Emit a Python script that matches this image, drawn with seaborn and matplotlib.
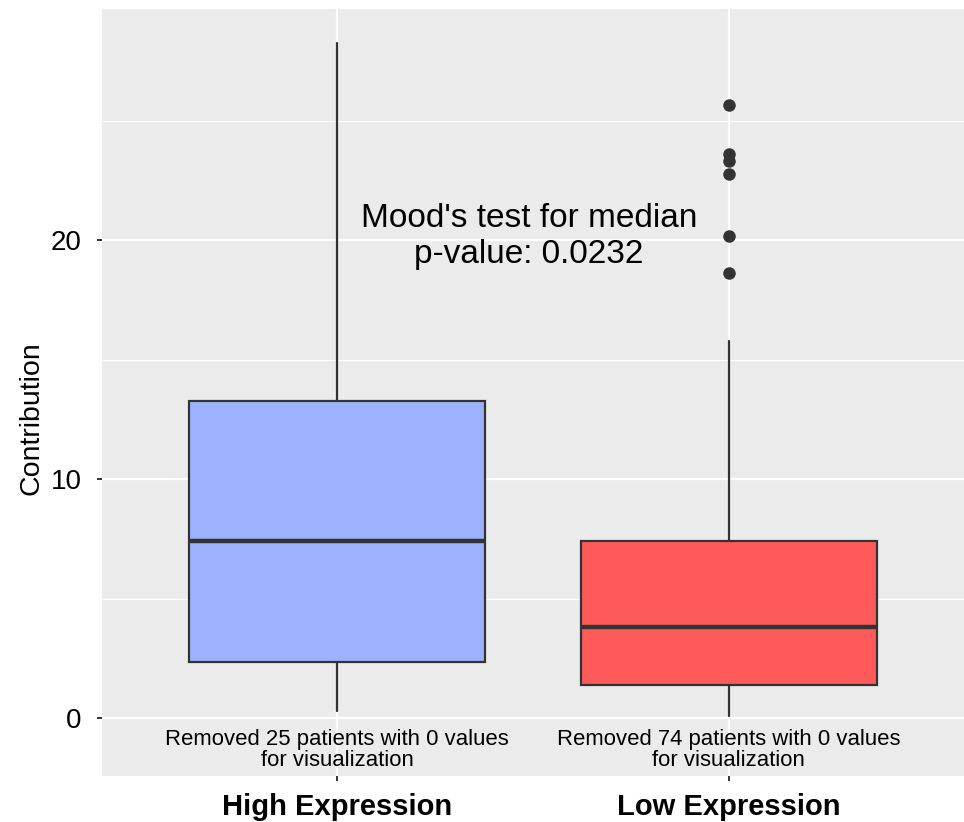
import matplotlib
matplotlib.use("Agg")
import matplotlib.pyplot as plt
import seaborn as sns

# Box summaries per expression group
groups = ["High Expression", "Low Expression"]
whisker_low = [0.29, 0.08]
q1 = [2.34, 1.39]
median = [7.43, 3.83]
q3 = [13.29, 7.43]
whisker_high = [28.27, 15.77]
outliers = [[], [25.66, 23.60, 23.30, 22.78, 20.17, 18.63]]
removed_counts = [25, 74]
box_colors = ["#9DB2FF", "#FF5A5A"]

y_ticks = [0, 10, 20]
annotation = "Mood's test for median\np-value: 0.0232"

sns.set_theme(style="darkgrid", rc={
    "axes.facecolor": "#EBEBEB",
    "grid.color": "white",
    "axes.edgecolor": "none",
})
plt.rcParams["font.family"] = ["Liberation Sans", "DejaVu Sans"]

fig = plt.figure(figsize=(9.64, 8.22), dpi=100)
ax = fig.add_axes([102 / 964, 1 - 776 / 822, 862 / 964, 767 / 822])

stats = []
for i, g in enumerate(groups):
    stats.append({
        "label": g,
        "whislo": whisker_low[i],
        "q1": q1[i],
        "med": median[i],
        "q3": q3[i],
        "whishi": whisker_high[i],
        "fliers": outliers[i],
    })

bp = ax.bxp(
    stats, positions=range(len(groups)), widths=0.755, patch_artist=True,
    showcaps=False,
    boxprops=dict(edgecolor="#333333", linewidth=1.6),
    whiskerprops=dict(color="#333333", linewidth=1.6),
    medianprops=dict(color="#333333", linewidth=3.2, solid_capstyle="butt"),
    flierprops=dict(marker="o", markerfacecolor="#333333", markeredgecolor="#333333",
                    markersize=8, linestyle="none"),
)
for patch, c in zip(bp["boxes"], box_colors):
    patch.set_facecolor(c)
for el in bp["boxes"] + bp["whiskers"] + bp["medians"] + bp["fliers"]:
    el.set_zorder(3)

ax.set_xlim(-0.6, 1.6)
ax.set_ylim(-2.41, 29.68)
ax.set_yticks(y_ticks)
ax.set_yticks([5, 15, 25], minor=True)
ax.grid(which="major", color="white", linewidth=1.6)
ax.grid(which="minor", axis="y", color="white", linewidth=0.8)
ax.set_axisbelow(True)

ax.set_xticks(range(len(groups)))
ax.set_xticklabels(groups, fontsize=21, fontweight="bold", color="black")
ax.set_yticklabels([str(t) for t in y_ticks], fontsize=20, color="black")
ax.tick_params(axis="both", which="major", length=3.5, width=1.4, color="#333333",
               left=True, bottom=True)
ax.tick_params(axis="y", which="major", pad=11)
ax.tick_params(axis="x", which="major", pad=9)
ax.tick_params(which="minor", length=0)
ax.set_ylabel("Contribution", fontsize=20.5, color="black")
ax.yaxis.set_label_coords(-0.067, 0.467)
ax.set_xlabel("")

ax.text(0.49, 20.15, annotation, ha="center", va="center", fontsize=24,
        color="black", linespacing=1.2, zorder=4)

for i, n in enumerate(removed_counts):
    ax.text(i, -1.31, f"Removed {n} patients with 0 values\nfor visualization",
            ha="center", va="center", fontsize=15.9, color="black",
            linespacing=1.0, zorder=4)

fig.savefig("out.png", dpi=100, facecolor="white")
